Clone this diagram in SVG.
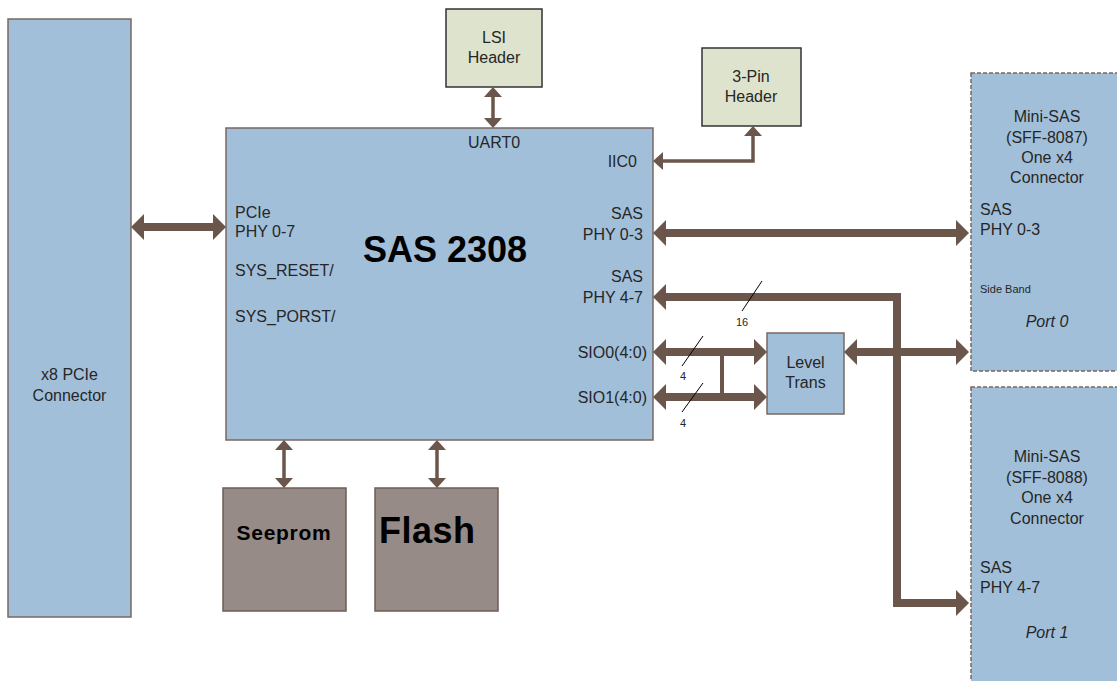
<svg xmlns="http://www.w3.org/2000/svg" width="1117" height="681" viewBox="0 0 1117 681">
<defs>
<style>
.blue{fill:#a2bfd9;stroke:#7a6760;stroke-width:1.5}
.dash{fill:#a2bfd9;stroke:#7a6760;stroke-width:1.5;stroke-dasharray:4 2}
.hdr{fill:#dde3cd;stroke:#333;stroke-width:1.5}
.mem{fill:#978b88;stroke:#6e5d56;stroke-width:1.5}
.t{font-family:"Liberation Sans",Arial,sans-serif;font-size:16px;fill:#262626}
.m{text-anchor:middle}
.e{text-anchor:end}
.b{font-weight:bold;fill:#000}
.i{font-style:italic}
.thick{fill:none;stroke:#6b564b;stroke-width:8;marker-start:url(#hb);marker-end:url(#hb)}
.thin{fill:none;stroke:#6b564b;stroke-width:3.5;marker-start:url(#hs);marker-end:url(#hs)}
.slash{stroke:#000;stroke-width:1}
</style>
<marker id="hb" markerUnits="userSpaceOnUse" viewBox="0 0 13 26" refX="1" refY="13" markerWidth="13" markerHeight="26" orient="auto-start-reverse">
<path d="M0,0 L13,13 L0,26 z" fill="#6b564b"/>
</marker>
<marker id="hs" markerUnits="userSpaceOnUse" viewBox="0 0 10 18" refX="1" refY="9" markerWidth="10" markerHeight="18" orient="auto-start-reverse">
<path d="M0,0 L10,9 L0,18 z" fill="#6b564b"/>
</marker>
</defs>
<rect width="1117" height="681" fill="#fff"/>

<g id="pcie-connector">
<rect class="blue" x="8" y="19" width="123" height="598"/>
<text class="t m" x="69.5" y="380">x8 PCIe</text>
<text class="t m" x="69.5" y="401">Connector</text>
</g>

<g id="sas2308">
<rect class="blue" x="226" y="128" width="427" height="312"/>
<text class="t m" x="494" y="148">UART0</text>
<text class="t e" x="637" y="167">IIC0</text>
<text class="t" x="235" y="218">PCIe</text>
<text class="t" x="235" y="237">PHY 0-7</text>
<text class="t" x="235" y="276">SYS_RESET/</text>
<text class="t" x="235" y="322">SYS_PORST/</text>
<text class="t b" x="445" y="262" text-anchor="middle" style="font-size:36px">SAS 2308</text>
<text class="t e" x="643" y="219">SAS</text>
<text class="t e" x="643" y="240">PHY 0-3</text>
<text class="t e" x="643" y="282">SAS</text>
<text class="t e" x="643" y="303">PHY 4-7</text>
<text class="t e" x="647" y="358">SIO0(4:0)</text>
<text class="t e" x="647" y="403">SIO1(4:0)</text>
</g>

<g id="lsi-header">
<rect class="hdr" x="446" y="9" width="96" height="78"/>
<text class="t m" x="494" y="43">LSI</text>
<text class="t m" x="494" y="63">Header</text>
</g>

<g id="pin3-header">
<rect class="hdr" x="702" y="48" width="99" height="78"/>
<text class="t m" x="751" y="82">3-Pin</text>
<text class="t m" x="751" y="102">Header</text>
</g>

<g id="seeprom">
<rect class="mem" x="223" y="488" width="123" height="123"/>
<text class="t b m" x="284" y="540" style="font-size:21px;letter-spacing:0.7px">Seeprom</text>
</g>

<g id="flash">
<rect class="mem" x="375" y="488" width="123" height="123"/>
<text class="t b" x="379" y="543" style="font-size:36px;letter-spacing:0.5px">Flash</text>
</g>

<g id="level-trans">
<rect class="blue" x="767" y="333" width="77" height="81"/>
<text class="t m" x="805.5" y="368">Level</text>
<text class="t m" x="805.5" y="388">Trans</text>
</g>

<g id="minisas-8087">
<rect class="dash" x="971" y="73" width="160" height="298"/>
<text class="t m" x="1047" y="122">Mini-SAS</text>
<text class="t m" x="1047" y="143">(SFF-8087)</text>
<text class="t m" x="1047" y="163">One x4</text>
<text class="t m" x="1047" y="183">Connector</text>
<text class="t" x="980" y="215">SAS</text>
<text class="t" x="980" y="235">PHY 0-3</text>
<text class="t" x="980" y="293" style="font-size:11px">Side Band</text>
<text class="t m i" x="1047" y="327">Port 0</text>
</g>

<g id="minisas-8088">
<rect class="dash" x="971" y="387" width="160" height="310"/>
<text class="t m" x="1047" y="462">Mini-SAS</text>
<text class="t m" x="1047" y="483">(SFF-8088)</text>
<text class="t m" x="1047" y="503">One x4</text>
<text class="t m" x="1047" y="524">Connector</text>
<text class="t" x="980" y="573">SAS</text>
<text class="t" x="980" y="593">PHY 4-7</text>
<text class="t m i" x="1047" y="638">Port 1</text>
</g>

<g id="connectors">
<line class="thick" x1="143" y1="227" x2="214" y2="227"/>
<line class="thin" x1="493" y1="96" x2="493" y2="119"/>
<path class="thin" d="M662,161 H753 V135"/>
<line class="thin" x1="284" y1="449" x2="284" y2="479"/>
<line class="thin" x1="437" y1="449" x2="437" y2="479"/>
<line class="thick" x1="665" y1="233" x2="957" y2="233"/>
<path class="thick" d="M665,297 H897 V603 H957"/>
<line class="thick" x1="665" y1="352" x2="755" y2="352"/>
<line class="thick" x1="665" y1="397" x2="755" y2="397"/>
<line x1="722" y1="352" x2="722" y2="397" stroke="#6b564b" stroke-width="4"/>
<line class="thick" x1="856" y1="352" x2="957" y2="352"/>
<line class="slash" x1="762" y1="281" x2="742" y2="311"/>
<text class="t m" x="742" y="326" style="font-size:11px">16</text>
<line class="slash" x1="703" y1="336" x2="682" y2="366"/>
<text class="t m" x="683" y="380" style="font-size:11px">4</text>
<line class="slash" x1="703" y1="383" x2="682" y2="412"/>
<text class="t m" x="683" y="427" style="font-size:11px">4</text>
</g>
</svg>
